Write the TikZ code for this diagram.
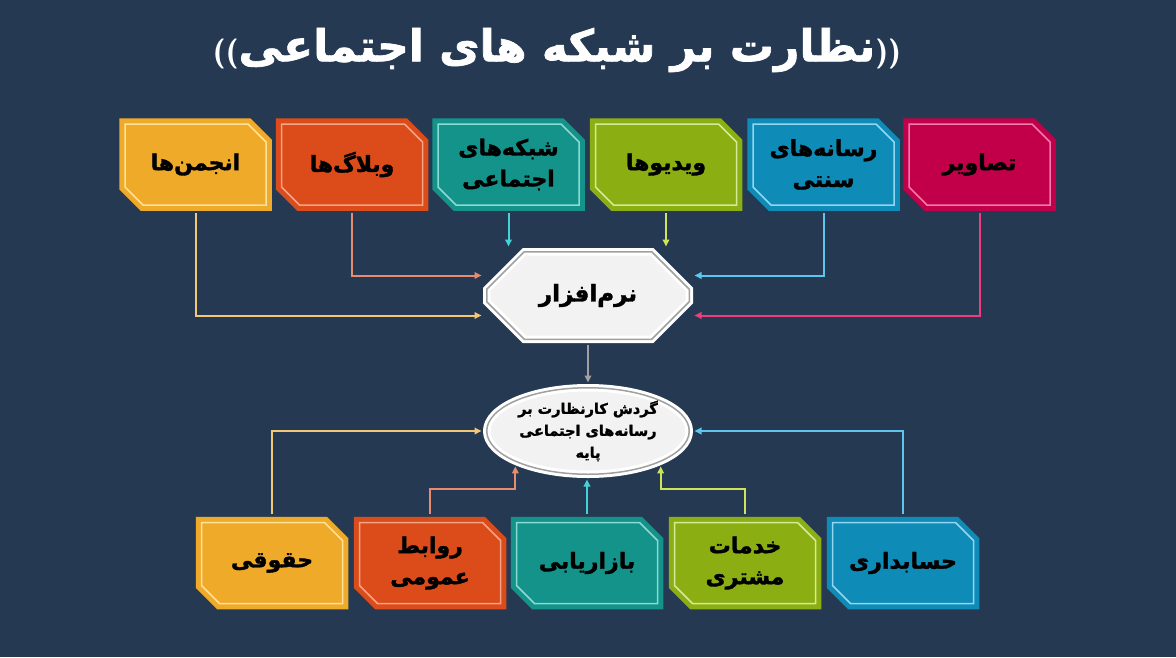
\documentclass[tikz,border=0pt]{standalone}
\usepackage{fontspec}
\usepackage{tikz}
\usetikzlibrary{shapes.misc,shapes.geometric,arrows.meta}
\TeXXeTstate=1
\newfontfamily\arabicfont[Script=Arabic,BoldFeatures={FakeBold=1.6}]{DejaVu Sans}
\newcommand{\fa}[1]{{\arabicfont\bfseries\beginR #1\endR}}
\newcommand{\paren}[1]{{\sffamily\bfseries\fontsize{30}{30}\selectfont #1}}

\definecolor{bgnavy}{HTML}{253A52}
\definecolor{yelfill}{HTML}{F0AA2A}
\definecolor{yelline}{HTML}{FCE29C}
\definecolor{yellink}{HTML}{F3C773}
\definecolor{redfill}{HTML}{DC4B1A}
\definecolor{redline}{HTML}{F2A587}
\definecolor{redlink}{HTML}{E88C70}
\definecolor{tealfill}{HTML}{13938A}
\definecolor{tealline}{HTML}{8ADBD3}
\definecolor{teallink}{HTML}{45D2D6}
\definecolor{grnfill}{HTML}{8BAF12}
\definecolor{grnline}{HTML}{D5EA97}
\definecolor{grnlink}{HTML}{CDE45A}
\definecolor{bluefill}{HTML}{0E8BB6}
\definecolor{blueline}{HTML}{93D6F2}
\definecolor{bluelink}{HTML}{5CC6EC}
\definecolor{crimfill}{HTML}{C2004A}
\definecolor{crimline}{HTML}{F07BAE}
\definecolor{crimlink}{HTML}{EE3D7E}
\definecolor{softgray}{HTML}{F2F2F2}
\definecolor{rimgray}{HTML}{A0A0A0}

\begin{document}
\begin{tikzpicture}[x=1pt,y=-1pt,
    tagbox/.style 2 args={chamfered rectangle,
      chamfered rectangle corners={north east,south west},
      chamfered rectangle xsep=9pt, chamfered rectangle ysep=9pt,
      minimum width=141pt, minimum height=81pt, inner sep=0pt,
      fill=#1, draw=#1, line width=5pt, double=#2, double distance=1.5pt,
      align=center, font=\fontsize{22}{31}\selectfont},
    softbox/.style={chamfered rectangle,
      chamfered rectangle xsep=26pt, chamfered rectangle ysep=26pt,
      minimum width=202.5pt, minimum height=87.5pt, inner sep=0pt,
      fill=softgray, draw=white, line width=3pt, double=rimgray,
      double distance=1.5pt, font=\fontsize{23}{28}\selectfont},
    flowbox/.style={ellipse, minimum width=202.5pt, minimum height=86.5pt,
      inner sep=0pt, fill=softgray, draw=white, line width=3pt,
      double=rimgray, double distance=1.5pt, align=center,
      font=\fontsize{14.5}{22}\selectfont},
    link/.style={draw=#1, line width=2pt,
      -{Triangle[length=7pt,width=6.5pt]},
      shorten <=5.75pt, shorten >=3.75pt}]
  \useasboundingbox (0,0) rectangle (1176,657);
  \fill[bgnavy] (0,0) rectangle (1176,657);

  % title
  \node[text=white, font=\fontsize{44}{48}\selectfont] (title) at (557,50)
    {\paren{((}\fa{نظارت بر شبکه های اجتماعی}\paren{))}};

  % sources
  \node[tagbox={yelfill}{yelline}] (forums) at (195.5,164.5) {\fa{انجمن‌ها}};
  \node[tagbox={redfill}{redline}] (blogs) at (352,164.5) {\fa{وبلاگ‌ها}};
  \node[tagbox={tealfill}{tealline}] (nets) at (508.5,164.5)
    {\fa{شبکه‌های}\\\fa{اجتماعی}};
  \node[tagbox={grnfill}{grnline}] (videos) at (666,164.5) {\fa{ویدیوها}};
  \node[tagbox={bluefill}{blueline}] (media) at (823.5,164.5)
    {\fa{رسانه‌های}\\\fa{سنتی}};
  \node[tagbox={crimfill}{crimline}] (images) at (979.5,164.5) {\fa{تصاویر}};

  \node[softbox] (soft) at (588,295.5) {\fa{نرم‌افزار}};
  \node[flowbox] (flow) at (588,431)
    {\fa{گردش کارنظارت بر}\\\fa{رسانه‌های اجتماعی}\\\fa{پایه}};

  % units
  \node[tagbox={yelfill}{yelline}] (law) at (272,563) {\fa{حقوقی}};
  \node[tagbox={redfill}{redline}] (pr) at (430,563)
    {\fa{روابط}\\\fa{عمومی}};
  \node[tagbox={tealfill}{tealline}] (market) at (587,563) {\fa{بازاریابی}};
  \node[tagbox={grnfill}{grnline}] (service) at (745,563)
    {\fa{خدمات}\\\fa{مشتری}};
  \node[tagbox={bluefill}{blueline}] (acc) at (903,563) {\fa{حسابداری}};

  % links to the software
  \draw[link=yellink] (forums.south) |- ([yshift=-20pt]soft.west);
  \draw[link=redlink] (blogs.south) |- ([yshift=20pt]soft.west);
  \draw[link=teallink] (nets.south) -- (nets.south |- soft.north);
  \draw[link=grnlink] (videos.south) -- (videos.south |- soft.north);
  \draw[link=bluelink] (media.south) |- ([yshift=20pt]soft.east);
  \draw[link=crimlink] (images.south) |- ([yshift=-20pt]soft.east);
  \draw[link=rimgray, shorten <=3.75pt] (soft.south) -- (flow.north);

  % links to the workflow
  \draw[link=yellink] (law.north) |- (flow.west);
  \draw[link=redlink] (pr.north) |- ([yshift=-26pt]flow.south west)
    -- (flow.south west);
  \draw[link=teallink] (market.north) -- (market.north |- flow.south);
  \draw[link=grnlink] (service.north) |- ([yshift=-26pt]flow.south east)
    -- (flow.south east);
  \draw[link=bluelink] (acc.north) |- (flow.east);
\end{tikzpicture}
\end{document}
